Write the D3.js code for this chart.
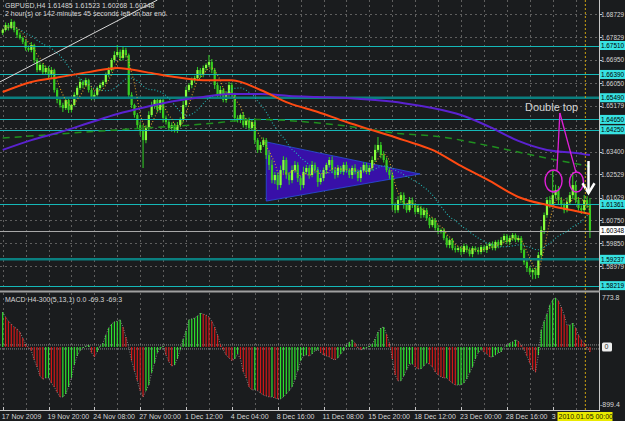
<!DOCTYPE html>
<html>
<head>
<meta charset="utf-8">
<script src="https://cdn.jsdelivr.net/npm/d3@7"></script>
<style>
body { margin: 0; background: #1a1c1e; }
svg { display: block; }
text { font-family: "Liberation Sans", Arial, sans-serif; }
</style>
</head>
<body>
<svg id="chart" width="625" height="421"></svg>
<script>
// ---- data ----
var firstOpen = 1.6800;
var closes = [
  1.6811,1.6830,1.6819,1.6842,1.6811,1.6792,1.6780,1.6765,1.6741,1.6734,
  1.6753,1.6695,1.6656,1.6676,1.6648,1.6664,1.6637,1.6656,1.6579,1.6540,
  1.6521,1.6509,1.6540,1.6502,1.6521,1.6560,1.6587,1.6610,1.6598,1.6617,
  1.6579,1.6548,1.6560,1.6587,1.6598,1.6610,1.6637,1.6656,1.6695,1.6714,
  1.6726,1.6703,1.6734,1.6714,1.6560,1.6521,1.6482,1.6443,1.6424,1.6385,
  1.6432,1.6482,1.6521,1.6540,1.6502,1.6540,1.6471,1.6455,1.6432,1.6443,
  1.6424,1.6443,1.6463,1.6521,1.6579,1.6598,1.6617,1.6625,1.6656,1.6637,
  1.6664,1.6676,1.6687,1.6656,1.6598,1.6560,1.6579,1.6540,1.6560,1.6598,
  1.6560,1.6471,1.6463,1.6482,1.6443,1.6463,1.6432,1.6455,1.6385,1.6347,
  1.6366,1.6385,1.6327,1.6289,1.6230,1.6250,1.6211,1.6269,1.6308,1.6250,
  1.6230,1.6269,1.6289,1.6238,1.6211,1.6262,1.6277,1.6250,1.6289,1.6269,
  1.6223,1.6238,1.6269,1.6289,1.6308,1.6269,1.6250,1.6277,1.6262,1.6289,
  1.6269,1.6250,1.6277,1.6262,1.6238,1.6269,1.6289,1.6262,1.6277,1.6308,
  1.6347,1.6366,1.6327,1.6308,1.6269,1.6250,1.6134,1.6114,1.6153,1.6172,
  1.6134,1.6114,1.6153,1.6134,1.6107,1.6122,1.6095,1.6114,1.6083,1.6056,
  1.6076,1.6045,1.6033,1.6037,1.6006,1.5979,1.5998,1.5967,1.5960,1.5967,
  1.5952,1.5975,1.5960,1.5944,1.5967,1.5960,1.5952,1.5971,1.5960,1.5975,
  1.5983,1.5967,1.5991,1.5979,1.5998,1.6014,1.5991,1.6006,1.6018,1.5998,
  1.6006,1.5960,1.5913,1.5890,1.5874,1.5882,1.5863,1.5940,1.6037,1.6095,
  1.6153,1.6134,1.6172,1.6192,1.6153,1.6134,1.6114,1.6145,1.6172,1.6211,
  1.6153,1.6122,1.6114,1.6153,1.6134,1.6035
];
// wick lengths above / below the body, in pips
var wickUp = [
  6,10,8,12,5,7,9,6,8,10,12,5,8,10,6,9,7,12,5,8,
  6,9,12,7,5,10,8,12,6,9,5,8,10,6,9,7,10,12,8,15,
  27,10,12,8,6,10,5,8,12,20,10,15,12,8,10,6,12,9,7,10,
  8,12,10,15,12,8,10,9,12,8,10,6,27,12,8,10,15,8,10,12,
  9,8,10,6,12,8,9,10,15,8,12,10,8,15,20,12,10,18,15,10,
  12,18,15,10,8,20,12,10,15,9,12,18,10,8,12,15,10,12,8,10,
  12,8,10,15,9,12,10,8,12,15,20,31,12,15,10,8,12,10,15,12,
  10,8,12,10,8,15,9,10,8,6,10,8,12,6,8,10,6,8,10,7,
  8,10,6,9,8,7,10,8,6,9,8,10,7,8,12,9,8,10,8,6,
  10,8,6,9,8,7,10,12,15,10,12,15,97,20,15,12,10,18,12,51,
  15,12,10,20,15,27
];
var wickDn = [
  8,6,10,5,9,12,6,8,10,7,9,12,8,6,10,8,12,15,10,12,
  10,15,8,12,10,6,9,8,12,7,10,9,8,6,10,8,7,9,6,10,
  8,12,10,9,15,12,10,15,20,108,12,10,8,15,10,12,18,10,12,15,
  10,12,8,10,9,8,12,10,8,12,9,10,8,12,15,10,12,9,10,8,
  12,15,10,12,9,10,12,8,15,12,10,8,15,20,12,15,18,10,12,15,
  18,12,10,15,20,12,10,15,9,12,18,10,12,15,10,12,15,10,8,12,
  10,12,15,10,12,15,10,9,12,10,8,10,12,10,8,15,20,12,10,12,
  15,10,8,12,10,8,12,9,10,12,8,10,12,9,8,10,12,8,10,9,
  12,8,10,9,12,8,10,9,8,12,10,8,9,12,8,10,9,12,10,8,
  8,12,10,15,10,27,15,12,10,15,10,12,8,12,15,10,12,8,10,15,
  12,10,15,10,12,29
];
var macdHist = [
  540,465,400,355,310,280,230,140,45,-10,
  -60,-200,-310,-450,-500,-480,-480,-560,-620,-700,
  -775,-775,-730,-620,-480,-280,-140,-60,-15,15,
  30,-90,-155,-80,15,60,185,295,355,390,
  400,420,310,155,-5,-215,-370,-525,-680,-775,
  -680,-590,-400,-250,-90,-30,15,-125,-230,-295,
  -280,-185,-45,125,250,420,435,450,480,525,
  510,495,465,400,310,185,45,-45,-125,-170,
  -215,-185,-110,-185,-390,-480,-620,-665,-665,-680,
  -715,-745,-760,-775,-775,-790,-805,-805,-775,-730,
  -680,-620,-510,-370,-215,-140,-125,-140,-110,-60,
  -45,-90,-125,-140,-155,-185,-200,-170,-110,-60,
  30,75,110,60,-15,-45,-30,-15,15,45,
  125,230,295,310,200,60,-185,-435,-525,-525,
  -450,-355,-265,-265,-310,-340,-340,-295,-250,-265,
  -310,-390,-435,-465,-480,-480,-525,-560,-590,-590,
  -590,-560,-495,-400,-310,-185,-90,-45,-80,-110,
  -155,-155,-125,-90,-80,0,30,60,80,110,
  90,30,-45,-140,-250,-355,-390,-125,265,400,
  510,650,730,760,715,620,495,340,340,370,
  295,185,110,60,-15,-80
];
// long moving averages, sampled every 10 bars
var maIdx = [0,10,20,30,40,50,60,70,80,90,100,110,120,130,140,150,160,170,180,190,200,205];
var maRed = [1.6571,1.6610,1.6629,1.6648,1.6664,1.6648,1.6629,1.6617,1.6617,1.6579,1.6528,1.6494,1.6455,1.6420,1.6385,1.6347,1.6285,1.6227,1.6165,1.6134,1.6111,1.6099];
var maPurple = [1.6347,1.6385,1.6416,1.6451,1.6486,1.6513,1.6536,1.6552,1.6563,1.6563,1.6556,1.6552,1.6548,1.6540,1.6528,1.6509,1.6482,1.6436,1.6382,1.6347,1.6335,1.6327];
var slowIdx = [0,34,69,90,104,121,138,152,171,187,205];
var maSlow = [1.6393,1.6420,1.6446,1.6465,1.6457,1.6438,1.6411,1.6399,1.6360,1.6322,1.6283];

var priceTicks = [1.68729,1.67829,1.66950,1.66050,1.65179,1.64299,1.63400,1.62529,1.61629,1.60750,1.59850,1.58979];
var levels = [1.67510,1.66390,1.64650,1.64250,1.61361,1.58219];
var strongLevels = [1.65490,1.59237];
var bidPrice = 1.60348;
var timeLabels = ["17 Nov 2009","19 Nov 20:00","24 Nov 08:00","27 Nov 00:00","1 Dec 12:00","4 Dec 04:00","8 Dec 16:00","11 Dec 08:00","15 Dec 20:00","18 Dec 12:00","23 Dec 00:00","28 Dec 16:00","3"];

// drawing objects in chart coordinates (bar index, price)
var trendLine = [[-1, 1.6610], [54, 1.6927]];
var triangle = [[92, 1.6378], [145.7, 1.6254], [92, 1.6149]];

// ---- layout ----
var W = 625, H = 421, plotRight = 599;
var mainBottom = 290, macdTop = 293, axisY = 410;
var labelW = 23; // right-hand labels are squeezed to fit before the window edge

var x = d3.scaleLinear().domain([0, 192]).range([2.7, 552.7]);
var y = d3.scaleLinear().domain([1.58979, 1.68729]).range([266, 14]);
var ym = d3.scaleLinear().domain([-899.4, 773.8]).range([405, 297]);

var svg = d3.select("#chart");
svg.append("rect").attr("width", W).attr("height", H).attr("fill", "#1a1c1e");

var defs = svg.append("defs");
defs.append("clipPath").attr("id", "clipMain").append("rect")
  .attr("x", 0).attr("y", 0).attr("width", plotRight).attr("height", mainBottom);
defs.append("clipPath").attr("id", "clipMacd").append("rect")
  .attr("x", 0).attr("y", macdTop).attr("width", plotRight).attr("height", axisY - macdTop);

var gMain = svg.append("g").attr("clip-path", "url(#clipMain)");
var gMacd = svg.append("g").attr("clip-path", "url(#clipMacd)");

// grid
var gridIdx = d3.range(0, 206, 8);
gMain.selectAll(".vgrid").data(gridIdx).enter().append("line")
  .attr("x1", d => Math.round(x(d)) + 0.5).attr("x2", d => Math.round(x(d)) + 0.5)
  .attr("y1", 0).attr("y2", mainBottom)
  .attr("stroke", "#5e5e5e").attr("stroke-dasharray", "2,3");
gMacd.selectAll(".vgrid").data(gridIdx).enter().append("line")
  .attr("x1", d => Math.round(x(d)) + 0.5).attr("x2", d => Math.round(x(d)) + 0.5)
  .attr("y1", macdTop).attr("y2", axisY)
  .attr("stroke", "#5e5e5e").attr("stroke-dasharray", "2,3");
gMain.selectAll(".hgrid").data(priceTicks).enter().append("line")
  .attr("x1", 0).attr("x2", plotRight)
  .attr("y1", d => Math.round(y(d)) + 0.5).attr("y2", d => Math.round(y(d)) + 0.5)
  .attr("stroke", "#5e5e5e").attr("stroke-dasharray", "2,3");

// triangle object
gMain.append("path")
  .attr("d", "M" + triangle.map(d => x(d[0]) + "," + y(d[1])).join("L") + "Z")
  .attr("fill", "#3810a8").attr("stroke", "#2850e0").attr("stroke-width", 0.8);

// candles
var bars = closes.map(function (c, i) {
  var o = i ? closes[i - 1] : firstOpen;
  return { i: i, o: o, c: c,
    h: Math.max(o, c) + wickUp[i] / 10000,
    l: Math.min(o, c) - wickDn[i] / 10000 };
});
gMain.selectAll(".wick").data(bars).enter().append("line")
  .attr("x1", d => x(d.i)).attr("x2", d => x(d.i))
  .attr("y1", d => y(d.h)).attr("y2", d => y(d.l))
  .attr("stroke", "#30c425").attr("stroke-width", 1.1);
gMain.selectAll(".body").data(bars).enter().append("rect")
  .attr("x", d => x(d.i) - 1.1).attr("width", 2.2)
  .attr("y", d => y(Math.max(d.o, d.c)))
  .attr("height", d => Math.max(1, y(Math.min(d.o, d.c)) - y(Math.max(d.o, d.c))))
  .attr("fill", d => d.c >= d.o ? "#88ff3c" : "#38cc20");

// horizontal level lines
gMain.selectAll(".lvl").data(levels).enter().append("line")
  .attr("x1", 0).attr("x2", plotRight)
  .attr("y1", d => Math.round(y(d)) + 0.5).attr("y2", d => Math.round(y(d)) + 0.5)
  .attr("stroke", "#15b8b8").attr("stroke-width", 1);
gMain.selectAll(".slvl").data(strongLevels).enter().append("line")
  .attr("x1", 0).attr("x2", plotRight)
  .attr("y1", d => y(d)).attr("y2", d => y(d))
  .attr("stroke", "#0a7f7f").attr("stroke-width", 2.5);
gMain.append("line").attr("x1", 0).attr("x2", plotRight)
  .attr("y1", Math.round(y(bidPrice)) + 0.5).attr("y2", Math.round(y(bidPrice)) + 0.5)
  .attr("stroke", "#a8a8a8");

// moving averages
function smaOf(n) {
  return closes.map((c, i) => [i, d3.mean(closes.slice(Math.max(0, i - n + 1), i + 1))]);
}
var lineP = d3.line().x(d => x(d[0])).y(d => y(d[1])).curve(d3.curveMonotoneX);
gMain.append("path").attr("d", lineP(smaOf(21))).attr("fill", "none")
  .attr("stroke", "#22b4b4").attr("stroke-width", 1.1).attr("stroke-dasharray", "1,2");
gMain.append("path").attr("d", lineP(smaOf(5))).attr("fill", "none")
  .attr("stroke", "#dca02a").attr("stroke-width", 1.1).attr("stroke-dasharray", "1,2");
gMain.append("path").attr("d", lineP(slowIdx.map((d, k) => [d, maSlow[k]]))).attr("fill", "none")
  .attr("stroke", "#1f8f1f").attr("stroke-width", 1.5).attr("stroke-dasharray", "7,5");
gMain.append("path").attr("d", lineP(maIdx.map((d, k) => [d, maPurple[k]]))).attr("fill", "none")
  .attr("stroke", "#5a22d0").attr("stroke-width", 2);
gMain.append("path").attr("d", lineP(maIdx.map((d, k) => [d, maRed[k]]))).attr("fill", "none")
  .attr("stroke", "#ff4a12").attr("stroke-width", 2);

// trend line
gMain.append("line")
  .attr("x1", x(trendLine[0][0])).attr("y1", y(trendLine[0][1]))
  .attr("x2", x(trendLine[1][0])).attr("y2", y(trendLine[1][1]))
  .attr("stroke", "#d8d8d8").attr("stroke-width", 1);

// "Double top" annotation
var magenta = "#e020d8";
gMain.append("text").attr("x", x(191.6)).attr("y", y(1.6513) + 4)
  .attr("text-anchor", "middle").attr("font-size", 11).attr("fill", "#d4d4d4").text("Double top");
[[193.5, 1.6269], [200.1, 1.6261]].forEach(function (p) {
  gMain.append("line").attr("x1", x(194.5)).attr("y1", y(1.6490))
    .attr("x2", x(p[0])).attr("y2", y(p[1]))
    .attr("stroke", magenta).attr("stroke-width", 1.3);
});
gMain.append("ellipse").attr("cx", x(192.3)).attr("cy", y(1.6227)).attr("rx", 8.5).attr("ry", 11)
  .attr("fill", "none").attr("stroke", magenta).attr("stroke-width", 1.4);
gMain.append("ellipse").attr("cx", x(200.3)).attr("cy", y(1.6223)).attr("rx", 7).attr("ry", 10)
  .attr("fill", "none").attr("stroke", magenta).attr("stroke-width", 1.4);

// white down arrow
var ax = x(204.5);
gMain.append("line").attr("x1", ax).attr("x2", ax).attr("y1", y(1.6304)).attr("y2", y(1.6183))
  .attr("stroke", "#ffffff").attr("stroke-width", 2.5);
gMain.append("path")
  .attr("d", "M" + (ax - 6) + "," + y(1.6218) + "L" + ax + "," + y(1.6180) + "L" + (ax + 6) + "," + y(1.6218))
  .attr("fill", "none").attr("stroke", "#ffffff").attr("stroke-width", 2.5);

// MACD histogram
var green = "#2ee02e", red = "#d01818";
gMacd.append("line").attr("x1", 0).attr("x2", plotRight).attr("y1", ym(0) - 2).attr("y2", ym(0) - 2)
  .attr("stroke", "#8c8c8c").attr("stroke-dasharray", "1,1");
gMacd.append("line").attr("x1", 0).attr("x2", plotRight).attr("y1", ym(0) + 2).attr("y2", ym(0) + 2)
  .attr("stroke", "#8c8c8c").attr("stroke-dasharray", "1,1");
gMacd.selectAll(".hist").data(macdHist).enter().append("line")
  .attr("x1", (d, i) => x(i)).attr("x2", (d, i) => x(i))
  .attr("y1", ym(0)).attr("y2", d => ym(d))
  .attr("stroke", (d, i) => (i === 0 || d >= macdHist[i - 1]) ? green : red)
  .attr("stroke-width", 1.2);
gMacd.append("path")
  .attr("d", d3.line().x((d, i) => x(i)).y(d => ym(d))(macdHist))
  .attr("fill", "none").attr("stroke", "#9a9a9a").attr("stroke-dasharray", "1,1.5").attr("stroke-width", 0.8);

// current-date marker
svg.append("line").attr("x1", x(203.4)).attr("x2", x(203.4)).attr("y1", 0).attr("y2", axisY)
  .attr("stroke", "#c8a012").attr("stroke-dasharray", "2,2");

// frame
svg.append("line").attr("x1", plotRight + 0.5).attr("x2", plotRight + 0.5).attr("y1", 0).attr("y2", axisY)
  .attr("stroke", "#c8c8c8");
svg.append("rect").attr("x", 0).attr("y", mainBottom + 0.5).attr("width", plotRight + 1).attr("height", 2)
  .attr("fill", "#a0a0a0");
svg.append("line").attr("x1", 0).attr("x2", plotRight + 1).attr("y1", axisY + 0.5).attr("y2", axisY + 0.5)
  .attr("stroke", "#c8c8c8");

// price axis labels
var axisText = "#d6d6d6";
svg.selectAll(".ptick").data(priceTicks).enter().append("line")
  .attr("x1", plotRight).attr("x2", plotRight + 3)
  .attr("y1", d => Math.round(y(d)) + 0.5).attr("y2", d => Math.round(y(d)) + 0.5)
  .attr("stroke", "#c8c8c8");
svg.selectAll(".plabel").data(priceTicks).enter().append("text")
  .attr("x", plotRight + 2).attr("y", d => y(d) + 2.5)
  .attr("font-size", 7).attr("fill", axisText)
  .attr("textLength", labelW).attr("lengthAdjust", "spacingAndGlyphs")
  .text(d => d.toFixed(5));

function levelLabel(p, bg) {
  svg.append("rect").attr("x", plotRight + 1).attr("y", y(p) - 4.5).attr("width", W - plotRight).attr("height", 9)
    .attr("fill", bg);
  svg.append("text").attr("x", plotRight + 2).attr("y", y(p) + 2.5)
    .attr("font-size", 7).attr("fill", "#000000")
    .attr("textLength", labelW).attr("lengthAdjust", "spacingAndGlyphs")
    .text(p.toFixed(5));
}
levels.concat(strongLevels).forEach(p => levelLabel(p, "#38e2e2"));
levelLabel(bidPrice, "#ffffff");

// MACD axis labels
svg.append("text").attr("x", plotRight + 3).attr("y", 300).attr("font-size", 7).attr("fill", axisText).text("773.8");
svg.append("text").attr("x", plotRight + 1).attr("y", 407).attr("font-size", 7).attr("fill", axisText).text("-899.4");
svg.append("rect").attr("x", plotRight + 3).attr("y", ym(0) - 4.5).attr("width", 10).attr("height", 9)
  .attr("fill", "#eeeeee").attr("rx", 1.5);
svg.append("text").attr("x", plotRight + 5.5).attr("y", ym(0) + 2.5).attr("font-size", 7).attr("fill", "#303030").text("0");

// time axis
var timeIdx = timeLabels.map((d, k) => k * 16);
svg.selectAll(".ttick").data(timeIdx).enter().append("line")
  .attr("x1", d => Math.round(x(d)) + 0.5).attr("x2", d => Math.round(x(d)) + 0.5)
  .attr("y1", axisY - 3).attr("y2", axisY)
  .attr("stroke", "#c8c8c8");
svg.selectAll(".tlabel").data(timeLabels).enter().append("text")
  .attr("x", (d, k) => x(timeIdx[k]) - 1).attr("y", 419)
  .attr("font-size", 7).attr("fill", axisText).text(d => d);
svg.append("rect").attr("x", 557.5).attr("y", 412).attr("width", 55).attr("height", 9).attr("fill", "#eaea00");
svg.append("text").attr("x", 558.5).attr("y", 419).attr("font-size", 7).attr("fill", "#1a1a00").text("2010.01.05 00:00");

// header texts
svg.append("text").attr("x", 5).attr("y", 7.5).attr("font-size", 7).attr("fill", axisText)
  .text("GBPUSD,H4  1.61485 1.61523 1.60268 1.60348");
svg.append("text").attr("x", 5).attr("y", 15.5).attr("font-size", 7).attr("fill", axisText)
  .text("2 hour(s) or 142 minutes 45 seconds left on bar end.");
svg.append("text").attr("x", 5).attr("y", 301.5).attr("font-size", 7).attr("fill", axisText)
  .text("MACD H4-300(5,13,1) 0.0 -69.3 -69.3");
</script>
</body>
</html>
